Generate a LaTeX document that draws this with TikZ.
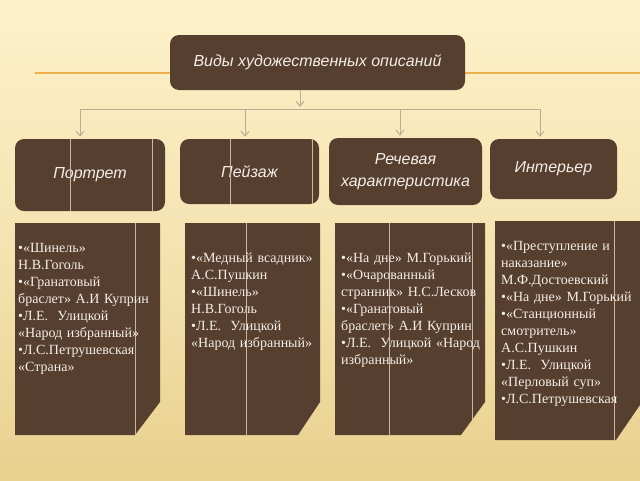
\documentclass[tikz,border=0pt]{standalone}
\usepackage{fontspec}
\setmainfont{Liberation Serif}
\setsansfont{Liberation Sans}
\usetikzlibrary{arrows.meta}

\definecolor{bark}{HTML}{573F30}
\definecolor{cream}{HTML}{FEF1C9}
\definecolor{sand}{HTML}{E8D08E}
\definecolor{rulecol}{HTML}{EEB04E}
\definecolor{wire}{HTML}{B9AE95}
\definecolor{seam}{HTML}{C8B8A0}
\definecolor{chalk}{HTML}{F4EEE6}

\tikzset{
  head/.style={fill=bark, rounded corners=9pt, text=chalk, align=center,
    font=\sffamily\itshape\fontsize{16}{22}\selectfont},
  card/.style={fill=bark},
  cardtext/.style={text=chalk, anchor=north west, inner sep=0pt, align=left,
    text width=150pt, font=\fontsize{14}{17}\selectfont},
  seamline/.style={seam, line width=0.8pt},
  bus/.style={wire, line width=1pt},
  link/.style={wire, line width=1pt, -{Straight Barb[length=5pt,width=8pt]}, shorten >=2pt}
}

\begin{document}
\begin{tikzpicture}[x=1pt,y=-1pt]
  \useasboundingbox (0,0) rectangle (640,480);
  \shade[top color=cream, bottom color=sand, middle color=cream!60!sand] (0,0) rectangle (640,480);

  % orange rule behind the title
  \draw[rulecol, line width=2pt] (35,73) -- (640,73);

  % title
  \node[head, minimum width=295pt, minimum height=55pt] (title) at (317.5,62.5) {Виды художественных описаний};

  % kinds
  \node[head, minimum width=150pt, minimum height=72pt] (portret) at (90,175) {Портрет};
  \node[head, minimum width=139pt, minimum height=65pt] (peizazh) at (249.5,171.5) {Пейзаж};
  \node[head, minimum width=153pt, minimum height=67pt, text depth=4pt] (rech) at (405.5,171.5) {Речевая\\характеристика};
  \node[head, minimum width=127pt, minimum height=60pt] (inter) at (553.5,169) {Интерьер};

  \draw[seamline] (70,139) -- (70,211);
  \draw[seamline] (152,139) -- (152,211);
  \draw[seamline] (230,139) -- (230,204);
  \draw[seamline] (312,139) -- (312,204);

  % tree
  \coordinate (hub) at (300,109);
  \coordinate (d1) at (80,109);
  \coordinate (d2) at (245,109);
  \coordinate (d3) at (400,109);
  \coordinate (d4) at (540,109);
  \draw[bus] (d1) -- (d4);
  \draw[link] (title.south -| hub) -- (hub);
  \draw[link] (d1) -- (d1 |- portret.north);
  \draw[link] (d2) -- (d2 |- peizazh.north);
  \draw[link] (d3) -- (d3 |- rech.north);
  \draw[link] (d4) -- (d4 |- inter.north);

  % cards with examples
  \fill[card] (15,223) -- (160,223) -- (160,402) -- (135,435) -- (15,435) -- cycle;
  \fill[card] (185,223) -- (320,223) -- (320,402) -- (298,435) -- (185,435) -- cycle;
  \fill[card] (335,223) -- (485,223) -- (485,402) -- (461,435) -- (335,435) -- cycle;
  \fill[card] (495,221) -- (640,221) -- (640,405) -- (616,440) -- (495,440) -- cycle;

  \draw[seamline] (135,223) -- (135,435);
  \draw[seamline] (246,223) -- (246,435);
  \draw[seamline] (389,223) -- (389,435);
  \draw[seamline] (472,223) -- (472,420);
  \draw[seamline] (614,221) -- (614,440);

  \node[cardtext] (ex1) at (18,243) {•«Шинель»\\Н.В.Гоголь\\•«Гранатовый\\браслет» А.И Куприн\\•Л.Е.~ Улицкой\\«Народ избранный»\\•Л.С.Петрушевская\\«Страна»};
  \node[cardtext] (ex2) at (191,253) {•«Медный всадник»\\А.С.Пушкин\\•«Шинель»\\Н.В.Гоголь\\•Л.Е.~ Улицкой\\«Народ избранный»};
  \node[cardtext] (ex3) at (341,253) {•«На дне» М.Горький\\•«Очарованный\\странник» Н.С.Лесков\\•«Гранатовый\\браслет» А.И Куприн\\•Л.Е.~ Улицкой «Народ\\избранный»};
  \node[cardtext] (ex4) at (501,241) {•«Преступление и\\наказание»\\М.Ф.Достоевский\\•«На дне» М.Горький\\•«Станционный\\смотритель»\\А.С.Пушкин\\•Л.Е.~ Улицкой\\«Перловый суп»\\•Л.С.Петрушевская};
\end{tikzpicture}
\end{document}
